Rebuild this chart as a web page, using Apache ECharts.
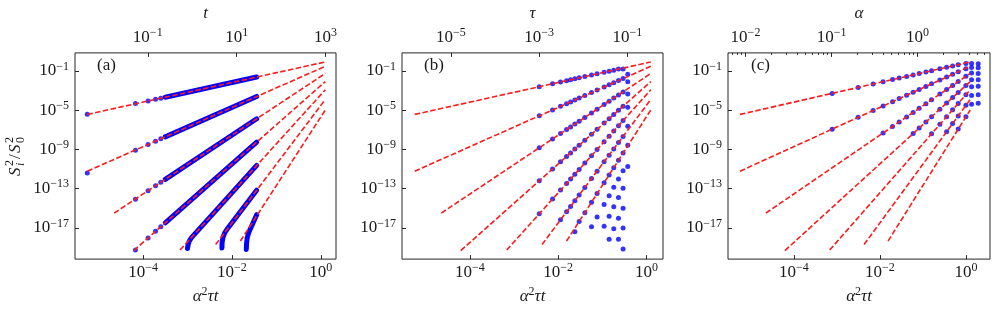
<!DOCTYPE html>
<html><head><meta charset="utf-8">
<script src="https://cdn.jsdelivr.net/npm/echarts@6/dist/echarts.min.js"></script>
<style>html,body{margin:0;padding:0;background:#fff}#c{width:996px;height:310px}</style>
</head><body><div id="c"></div>
<script>
// ---------- data ----------
// dashed fit lines (same in all three panels): start / end points
const lineStartX = [5.6e-6, 5.6e-6, 2.24e-5, 6.2e-5, 6.8e-4, 4.3e-3, 1.55e-2];
const lineStartY = [3.7e-6, 6.0e-12, 3.2e-16, 4.8e-20, 5.4e-20, 2.0e-19, 4.5e-19];
const lineEndX   = [1.26, 1.26, 1.26, 1.26, 1.26, 1.26, 1.26];
const lineEndY   = [0.83, 0.30, 0.056, 8.3e-3, 1.2e-3, 1.23e-4, 1.05e-5];

// panel (a): isolated dots
const aDotX  = [5.57e-6, 6.75e-5, 1.30e-4, 1.91e-4, 2.51e-4];
const aDotY1 = [3.8e-6, 4.7e-5, 8.6e-5, 1.26e-4, 1.6e-4];
const aDotY2 = [3.8e-12, 8.3e-10, 3.1e-9, 6.9e-9, 1.2e-8];
const aDotY3 = [null, 8.0e-15, 6.2e-14, 1.95e-13, 4.5e-13];
const aDotY4 = [null, 5.5e-20, 9.3e-19, 4.4e-18, 1.3e-17];
// panel (a): densely packed dots (drawn as a thick trace)
const aBand1X = [3.16e-4, 0.036], aBand1Y = [2.1e-4, 0.024];
const aBand2X = [3.16e-4, 0.036], aBand2Y = [1.9e-8, 2.5e-4];
const aBand3X = [3.16e-4, 0.036], aBand3Y = [8.9e-13, 1.32e-6];
const aBand4X = [3.16e-4, 0.036], aBand4Y = [3.3e-17, 5.6e-9];
const aBand5X = [1.0e-3, 1.035e-3, 1.096e-3, 1.23e-3, 0.036];
const aBand5Y = [7.9e-20, 2.0e-19, 4.5e-19, 1.0e-18, 2.34e-11];
const aBand6X = [5.96e-3, 6.0e-3, 6.3e-3, 6.9e-3, 7.9e-3, 0.036];
const aBand6Y = [8.7e-20, 3.2e-19, 1.1e-18, 3.2e-18, 7.9e-18, 6.8e-14];
const aBand7X = [0.021, 0.0213, 0.0221, 0.024, 0.036];
const aBand7Y = [6.3e-20, 2.5e-19, 1.0e-18, 3.5e-18, 2.2e-16];

// panel (b)
const bX  = [3.72e-3, 7.46e-3, 1.13e-2, 1.55e-2, 1.91e-2, 2.39e-2, 2.99e-2, 4.02e-2, 5.70e-2, 7.62e-2, 0.110, 0.143, 0.182, 0.233, 0.296, 0.378];
const bY1 = [2.45e-3, 4.93e-3, 7.48e-3, 1.02e-2, 1.26e-2, 1.58e-2, 1.97e-2, 2.65e-2, 3.77e-2, 5.04e-2, 7.26e-2, 9.42e-2, 0.120, 0.154, 0.158, 0.0468];
const bY2 = [2.63e-6, 1.06e-5, 2.44e-5, 4.57e-5, 6.92e-5, 1.09e-4, 1.70e-4, 3.08e-4, 6.19e-4, 1.11e-3, 2.30e-3, 3.87e-3, 6.31e-3, 1.03e-2, 1.67e-2, 7.9e-3];
const bY3 = [1.45e-9, 1.17e-8, 4.09e-8, 1.05e-7, 1.95e-7, 3.84e-7, 7.50e-7, 1.83e-6, 5.22e-6, 1.25e-5, 3.74e-5, 8.17e-5, 1.70e-4, 3.56e-4, 7.29e-4, 4.47e-4];
const bY4 = [6.31e-13, 1.03e-11, 5.45e-11, 1.91e-10, 4.37e-10, 1.08e-9, 2.63e-9, 8.63e-9, 3.50e-8, 1.12e-7, 4.83e-7, 1.37e-6, 3.63e-6, 9.73e-6, 2.54e-5, 1.95e-5];
const bY5 = [2.69e-16, 8.81e-15, 7.08e-14, 3.39e-13, 9.55e-13, 2.95e-12, 9.02e-12, 3.98e-11, 2.29e-10, 9.77e-10, 6.10e-9, 2.24e-8, 7.59e-8, 2.60e-7, 8.61e-7, 2.24e-7];
const bY6 = [null, null, 6.52e-17, 4.27e-16, 1.48e-15, 5.73e-15, 2.19e-14, 1.30e-13, 1.06e-12, 6.05e-12, 5.45e-11, 2.59e-10, 1.12e-9, 4.92e-9, 2.07e-8, 2.63e-9];
const bY7 = [null, null, null, null, null, 3.98e-18, 4.42e-17, 3.55e-16, 4.07e-15, 3.09e-14, 4.07e-13, 2.51e-12, 1.38e-11, 7.76e-11, 4.17e-10, 1.82e-11];
// higher modes (dots only, no fit line)
const bY8  = [null, null, null, null, null, null, null, null, 1.26e-17, 1.29e-16, 2.40e-15, 1.91e-14, 1.35e-13, 9.77e-13, 6.61e-12, null];
const bY9  = [null, null, null, null, null, null, null, null, null, null, 1.48e-17, 1.55e-16, 1.38e-15, 1.26e-14, 1.10e-13, null];
const bY10 = [null, null, null, null, null, null, null, null, null, null, null, 6.92e-19, 7.94e-18, 9.33e-17, 1.02e-15, null];
const bY11 = [null, null, null, null, null, null, null, null, null, null, null, null, null, 6.92e-19, 9.55e-18, null];
const bY12 = [null, null, null, null, null, null, null, null, null, null, null, null, null, null, 7.08e-20, null];

// panel (c)
const cX  = [7.78e-4, 3.13e-3, 6.98e-3, 1.19e-2, 1.97e-2, 2.81e-2, 4.18e-2, 5.94e-2, 8.20e-2, 0.1175, 0.159, 0.248, 0.356, 0.491, 0.662, 1.0, 1.355, 1.93];
const cY1 = [5.14e-4, 2.07e-3, 4.61e-3, 7.89e-3, 1.30e-2, 1.86e-2, 2.76e-2, 3.93e-2, 5.42e-2, 7.76e-2, 0.105, 0.164, 0.235, 0.324, 0.438, 0.56, 0.56, 0.54];
const cY2 = [1.15e-7, 1.86e-6, 9.29e-6, 2.72e-5, 7.41e-5, 1.51e-4, 3.33e-4, 6.73e-4, 1.28e-3, 2.63e-3, 4.83e-3, 1.17e-2, 2.41e-2, 4.59e-2, 8.36e-2, 0.17, 0.22, 0.21];
const cY3 = [null, null, null, 4.80e-8, 2.16e-7, 6.27e-7, 2.06e-6, 5.92e-6, 1.56e-5, 4.57e-5, 1.14e-4, 4.32e-4, 1.27e-3, 3.33e-3, 8.18e-3, 2.82e-2, 6.3e-2, 5.5e-2];
const cY4 = [null, null, null, null, null, null, null, 4.13e-8, 1.50e-7, 6.31e-7, 2.13e-6, 1.26e-5, 5.30e-5, 1.92e-4, 6.37e-4, 3.31e-3, 1.26e-2, 1.23e-2];
const cY5 = [null, null, null, null, null, null, null, null, null, null, 3.89e-8, 3.59e-7, 2.16e-6, 1.08e-5, 4.84e-5, 3.80e-4, 2.51e-3, 2.82e-3];
const cY6 = [null, null, null, null, null, null, null, null, null, null, null, null, 6.25e-8, 4.33e-7, 2.61e-6, 3.09e-5, 3.16e-4, 3.80e-4];
const cY7 = [null, null, null, null, null, null, null, null, null, null, null, null, null, null, 1.17e-7, 2.09e-6, 3.98e-5, 5.0e-5];

// axis ranges and tick labels
const yMin = 6.5e-21, yMax = 6.9;
const yTicks = [1e-17, 1e-13, 1e-9, 1e-5, 1e-1];
const xTicks = [1e-4, 1e-2, 1];
const aXMin = 2.95e-6, aXMax = 2.19;
const bXMin = 2.88e-6, bXMax = 2.38;
const cXMin = 2.95e-6, cXMax = 3.63;
const tMin = 2.31e-3, tMax = 1714, tTicks = [1e-1, 1e1, 1e3];
const tauMin = 7.76e-7, tauMax = 0.64, tauTicks = [1e-5, 1e-3, 1e-1];
const alphaMin = 6.26e-3, alphaMax = 6.94, alphaTicks = [1e-2, 1e-1, 1];
const alphaMinor = [0.007, 0.008, 0.009, 0.02, 0.03, 0.04, 0.05, 0.06, 0.07, 0.08, 0.09,
  0.2, 0.3, 0.4, 0.5, 0.6, 0.7, 0.8, 0.9, 2, 3, 4, 5, 6];

// ---------- styling ----------
const SERIF = '"Liberation Serif", "DejaVu Serif", serif';
const INK = '#1a1a1a';
const FRAME = '#262626';
const RED = '#ff1a1a';
const BLUE = '#0000ff';
const richTick = {
  b: {fontFamily: SERIF, fontSize: 17, color: INK, lineHeight: 17, verticalAlign: 'bottom'},
  s: {fontFamily: SERIF, fontSize: 12, color: INK, lineHeight: 12, verticalAlign: 'bottom', padding: [0, 0, 7, 0]}
};
const richName = {
  i: {fontFamily: SERIF, fontSize: 17, fontStyle: 'italic', color: INK, lineHeight: 17, verticalAlign: 'bottom'},
  s: {fontFamily: SERIF, fontSize: 12, color: INK, lineHeight: 12, verticalAlign: 'bottom', padding: [0, 0, 7, 0]}
};
function powLabel(v) {
  const e = Math.round(Math.log10(v));
  return '{b|10}{s|' + (e < 0 ? '\u2212' + (-e) : String(e)) + '}';
}
function xAxisDef(g, pos, min, max, ticks, name, nameGap, showLabels, tickLen) {
  return {
    type: 'log', logBase: 10, gridIndex: g, position: pos, min: min, max: max,
    axisLine: {show: false}, splitLine: {show: false}, minorSplitLine: {show: false},
    axisTick: {show: true, inside: true, length: tickLen || 4, customValues: ticks,
      lineStyle: {color: FRAME, width: 1}},
    axisLabel: {show: showLabels !== false, customValues: ticks, formatter: powLabel,
      rich: richTick, margin: pos === 'top' ? 7 : 5, hideOverlap: false},
    name: name, nameLocation: 'middle', nameGap: nameGap,
    nameTextStyle: {rich: richName}
  };
}
function yAxisDef(g, showLabels) {
  return {
    type: 'log', logBase: 10, gridIndex: g, position: 'left', min: yMin, max: yMax,
    axisLine: {show: false}, splitLine: {show: false},
    axisTick: {show: true, inside: true, length: 4, customValues: yTicks,
      lineStyle: {color: FRAME, width: 1}},
    axisLabel: {show: showLabels, customValues: yTicks, formatter: powLabel,
      rich: richTick, margin: 6}
  };
}
function pts(xs, ys) {
  const out = [];
  for (let i = 0; i < xs.length; i++) if (ys[i] != null) out.push([xs[i], ys[i]]);
  return out;
}
const series = [];
function addBand(g, xs, ys) {
  series.push({type: 'line', xAxisIndex: g * 2, yAxisIndex: g, data: pts(xs, ys),
    symbol: 'none', lineStyle: {color: BLUE, width: 5, cap: 'round', join: 'round'}, z: 2, silent: true});
}
function addFitLines(g) {
  for (let i = 0; i < lineStartX.length; i++) {
    series.push({type: 'line', xAxisIndex: g * 2, yAxisIndex: g,
      data: [[lineStartX[i], lineStartY[i]], [lineEndX[i], lineEndY[i]]],
      symbol: 'none', lineStyle: {color: RED, width: 1.6, type: [5.5, 2.4]}, z: 3, silent: true});
  }
}
function addDots(g, xs, ys) {
  series.push({type: 'scatter', xAxisIndex: g * 2, yAxisIndex: g, data: pts(xs, ys),
    symbol: 'circle', symbolSize: 5, itemStyle: {color: BLUE}, z: 2, silent: true});
}
// panel (a)
[aDotY1, aDotY2, aDotY3, aDotY4].forEach(ys => addDots(0, aDotX, ys));
addBand(0, aBand1X, aBand1Y); addBand(0, aBand2X, aBand2Y); addBand(0, aBand3X, aBand3Y);
addBand(0, aBand4X, aBand4Y); addBand(0, aBand5X, aBand5Y); addBand(0, aBand6X, aBand6Y);
addBand(0, aBand7X, aBand7Y);
addFitLines(0);
// panel (b)
[bY1, bY2, bY3, bY4, bY5, bY6, bY7, bY8, bY9, bY10, bY11, bY12].forEach(ys => addDots(1, bX, ys));
addFitLines(1);
// panel (c)
[cY1, cY2, cY3, cY4, cY5, cY6, cY7].forEach(ys => addDots(2, cX, ys));
addFitLines(2);

const gridBase = {top: 44, height: 218, show: true, borderColor: FRAME, borderWidth: 1, containLabel: false};
const option = {
  animation: false,
  backgroundColor: '#fff',
  grid: [
    Object.assign({left: 75, width: 261}, gridBase),
    Object.assign({left: 402, width: 261}, gridBase),
    Object.assign({left: 728, width: 262}, gridBase)
  ],
  xAxis: [
    xAxisDef(0, 'bottom', aXMin, aXMax, xTicks, '{i|\u03b1}{s|2}{i|\u03c4t}', 27),
    xAxisDef(0, 'top', tMin, tMax, tTicks, '{i|t}', 30),
    xAxisDef(1, 'bottom', bXMin, bXMax, xTicks, '{i|\u03b1}{s|2}{i|\u03c4t}', 27),
    xAxisDef(1, 'top', tauMin, tauMax, tauTicks, '{i|\u03c4}', 30),
    xAxisDef(2, 'bottom', cXMin, cXMax, xTicks, '{i|\u03b1}{s|2}{i|\u03c4t}', 27),
    xAxisDef(2, 'top', alphaMin, alphaMax, alphaTicks, '{i|\u03b1}', 30),
    xAxisDef(2, 'top', alphaMin, alphaMax, alphaMinor, '', 0, false, 2)
  ],
  yAxis: [yAxisDef(0, true), yAxisDef(1, true), yAxisDef(2, true)],
  series: series,
  graphic: [
    {type: 'text', left: 97, top: 57, style: {text: '(a)', font: '17px ' + SERIF, fill: INK}},
    {type: 'text', left: 424, top: 57, style: {text: '(b)', font: '17px ' + SERIF, fill: INK}},
    {type: 'text', left: 751, top: 57, style: {text: '(c)', font: '17px ' + SERIF, fill: INK}},
    {type: 'group', x: 16, y: 176, rotation: Math.PI / 2, children: [
      {type: 'text', x: 0, y: 0, style: {text: 'S', font: 'italic 17px ' + SERIF, fill: INK, verticalAlign: 'middle'}},
      {type: 'text', x: 10, y: -6, style: {text: '2', font: '12px ' + SERIF, fill: INK, verticalAlign: 'middle'}},
      {type: 'text', x: 10, y: 5, style: {text: 'i', font: 'italic 12px ' + SERIF, fill: INK, verticalAlign: 'middle'}},
      {type: 'text', x: 17, y: 0, style: {text: '/', font: '17px ' + SERIF, fill: INK, verticalAlign: 'middle'}},
      {type: 'text', x: 23, y: 0, style: {text: 'S', font: 'italic 17px ' + SERIF, fill: INK, verticalAlign: 'middle'}},
      {type: 'text', x: 33, y: -6, style: {text: '2', font: '12px ' + SERIF, fill: INK, verticalAlign: 'middle'}},
      {type: 'text', x: 33, y: 5, style: {text: '0', font: '12px ' + SERIF, fill: INK, verticalAlign: 'middle'}}
    ]}
  ]
};
const chart = echarts.init(document.getElementById('c'), null, {renderer: 'canvas'});
chart.setOption(option);
</script></body></html>
